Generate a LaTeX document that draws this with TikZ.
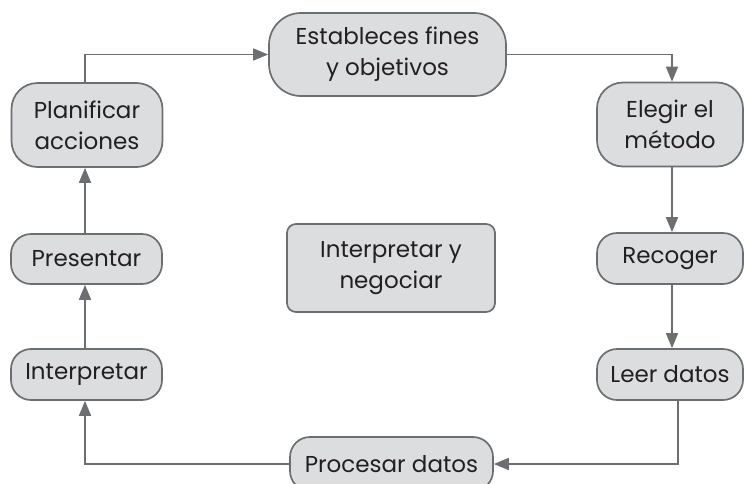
\documentclass[tikz,border=0pt]{standalone}
\usepackage{fontspec}
\setmainfont{Poppins}
\usetikzlibrary{arrows.meta}
\definecolor{boxfill}{HTML}{DCDDDF}
\definecolor{boxline}{HTML}{6D6E71}
\definecolor{txt}{HTML}{231F20}
\begin{document}
\begin{tikzpicture}[x=1pt,y=-1pt,
  box/.style={draw=boxline, fill=boxfill, line width=1.7pt, rounded corners=20pt,
    text=txt, align=center, inner sep=0pt,
    font=\fontsize{23}{31}\selectfont},
  conn/.style={draw=boxline, line width=1.7pt, -{Triangle[length=15pt,width=12pt]}}]
\useasboundingbox (0,0) rectangle (744,483);
\begin{scope}
\clip (0,0) rectangle (744,483);
\node[box, rounded corners=32pt, minimum width=237pt, minimum height=83pt] (est) at (387.5,54.5) {Estableces fines\\y objetivos};
\node[box, rounded corners=26pt, minimum width=151pt, minimum height=84pt] (plan) at (87,125) {Planificar\\acciones};
\node[box, rounded corners=26pt, minimum width=146pt, minimum height=84pt] (eleg) at (670,124.5) {Elegir el\\método};
\node[box, minimum width=146pt, minimum height=51pt] (rec) at (670,258.5) {Recoger};
\node[box, minimum width=146pt, minimum height=51pt] (leer) at (670,374.5) {Leer datos};
\node[box, minimum width=203pt, minimum height=54pt] (proc) at (391.5,464) {Procesar datos};
\node[box, minimum width=151pt, minimum height=51pt] (interp) at (86.5,374.5) {Interpretar};
\node[box, minimum width=151pt, minimum height=50pt] (pres) at (86.5,259) {Presentar};
\node[box, rounded corners=9pt, minimum width=208pt, minimum height=88pt] (neg) at (391,268) {Interpretar y\\negociar};
\end{scope}
\coordinate (lx) at (85,0);
\coordinate (rx) at (672,0);
\draw[conn] (lx |- plan.north) |- (est.west);
\draw[conn] (est.east) -| (rx |- eleg.north);
\draw[conn] (rx |- eleg.south) -- (rx |- rec.north);
\draw[conn] (rx |- rec.south) -- (rx |- leer.north);
\draw[conn] ([xshift=8pt]leer.south) |- (proc.east);
\draw[conn] (proc.west) -| (lx |- interp.south);
\draw[conn] (lx |- interp.north) -- (lx |- pres.south);
\draw[conn] (lx |- pres.north) -- (lx |- plan.south);
\end{tikzpicture}
\end{document}
